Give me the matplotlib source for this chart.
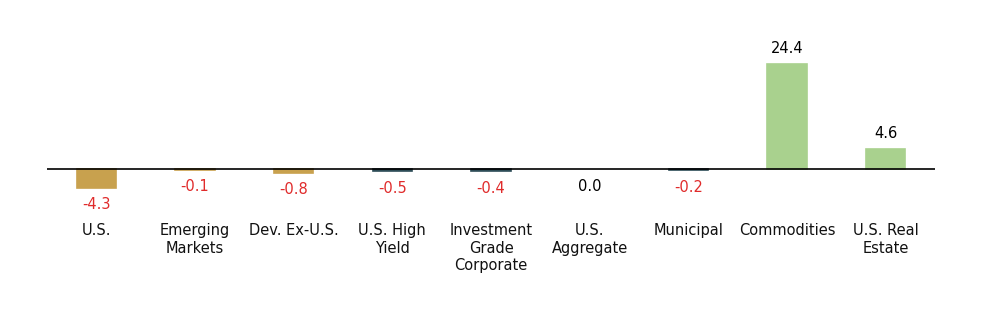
import matplotlib.pyplot as plt

# Chart data
categories = ["U.S.", "Emerging\nMarkets", "Dev. Ex-U.S.", "U.S. High\nYield",
              "Investment\nGrade\nCorporate", "U.S.\nAggregate", "Municipal",
              "Commodities", "U.S. Real\nEstate"]
returns = [-4.3, -0.1, -0.8, -0.5, -0.4, 0.0, -0.2, 24.4, 4.6]
bar_colors = ["#C8A14E", "#C8A14E", "#C8A14E", "#2E4D57", "#2E4D57",
              "#2E4D57", "#2E4D57", "#A9D18E", "#A9D18E"]

fig = plt.figure(figsize=(9.88, 3.30), dpi=100)
ax = fig.add_axes([47 / 988, 1 - 195 / 330, (935 - 47) / 988, (195 - 40) / 330])

x = range(len(categories))
# thin edge in the bar colour so tiny values still show as a sliver (none for zero)
edge_widths = [1.2 if v != 0 else 0 for v in returns]
ax.bar(x, returns, width=0.4, color=bar_colors, edgecolor=bar_colors, linewidth=edge_widths)
ax.axhline(0, color="black", linewidth=1.2, zorder=3)
ax.set_xlim(-0.5, len(categories) - 0.5)
ax.set_ylim(-6, 30)

# Value labels: below for negatives / zero (red if negative), black above otherwise
for i, v in enumerate(returns):
    if v <= 0:
        ax.annotate(f"{v:.1f}", (i, min(v, -0.1)), xytext=(0, -7), textcoords="offset points",
                    ha="center", va="top", color="#E02B2B" if v < 0 else "black",
                    fontsize=10.5)
    else:
        ax.annotate(f"{v:.1f}", (i, v), xytext=(0, 6), textcoords="offset points",
                    ha="center", va="bottom", color="black", fontsize=10.5)

# Category labels under the chart
for i, name in enumerate(categories):
    ax.text(i, -12.6, name, ha="center", va="top", fontsize=10.5,
            linespacing=1.2, color="#111111")

ax.axis("off")
fig.savefig("out.png", dpi=100)
